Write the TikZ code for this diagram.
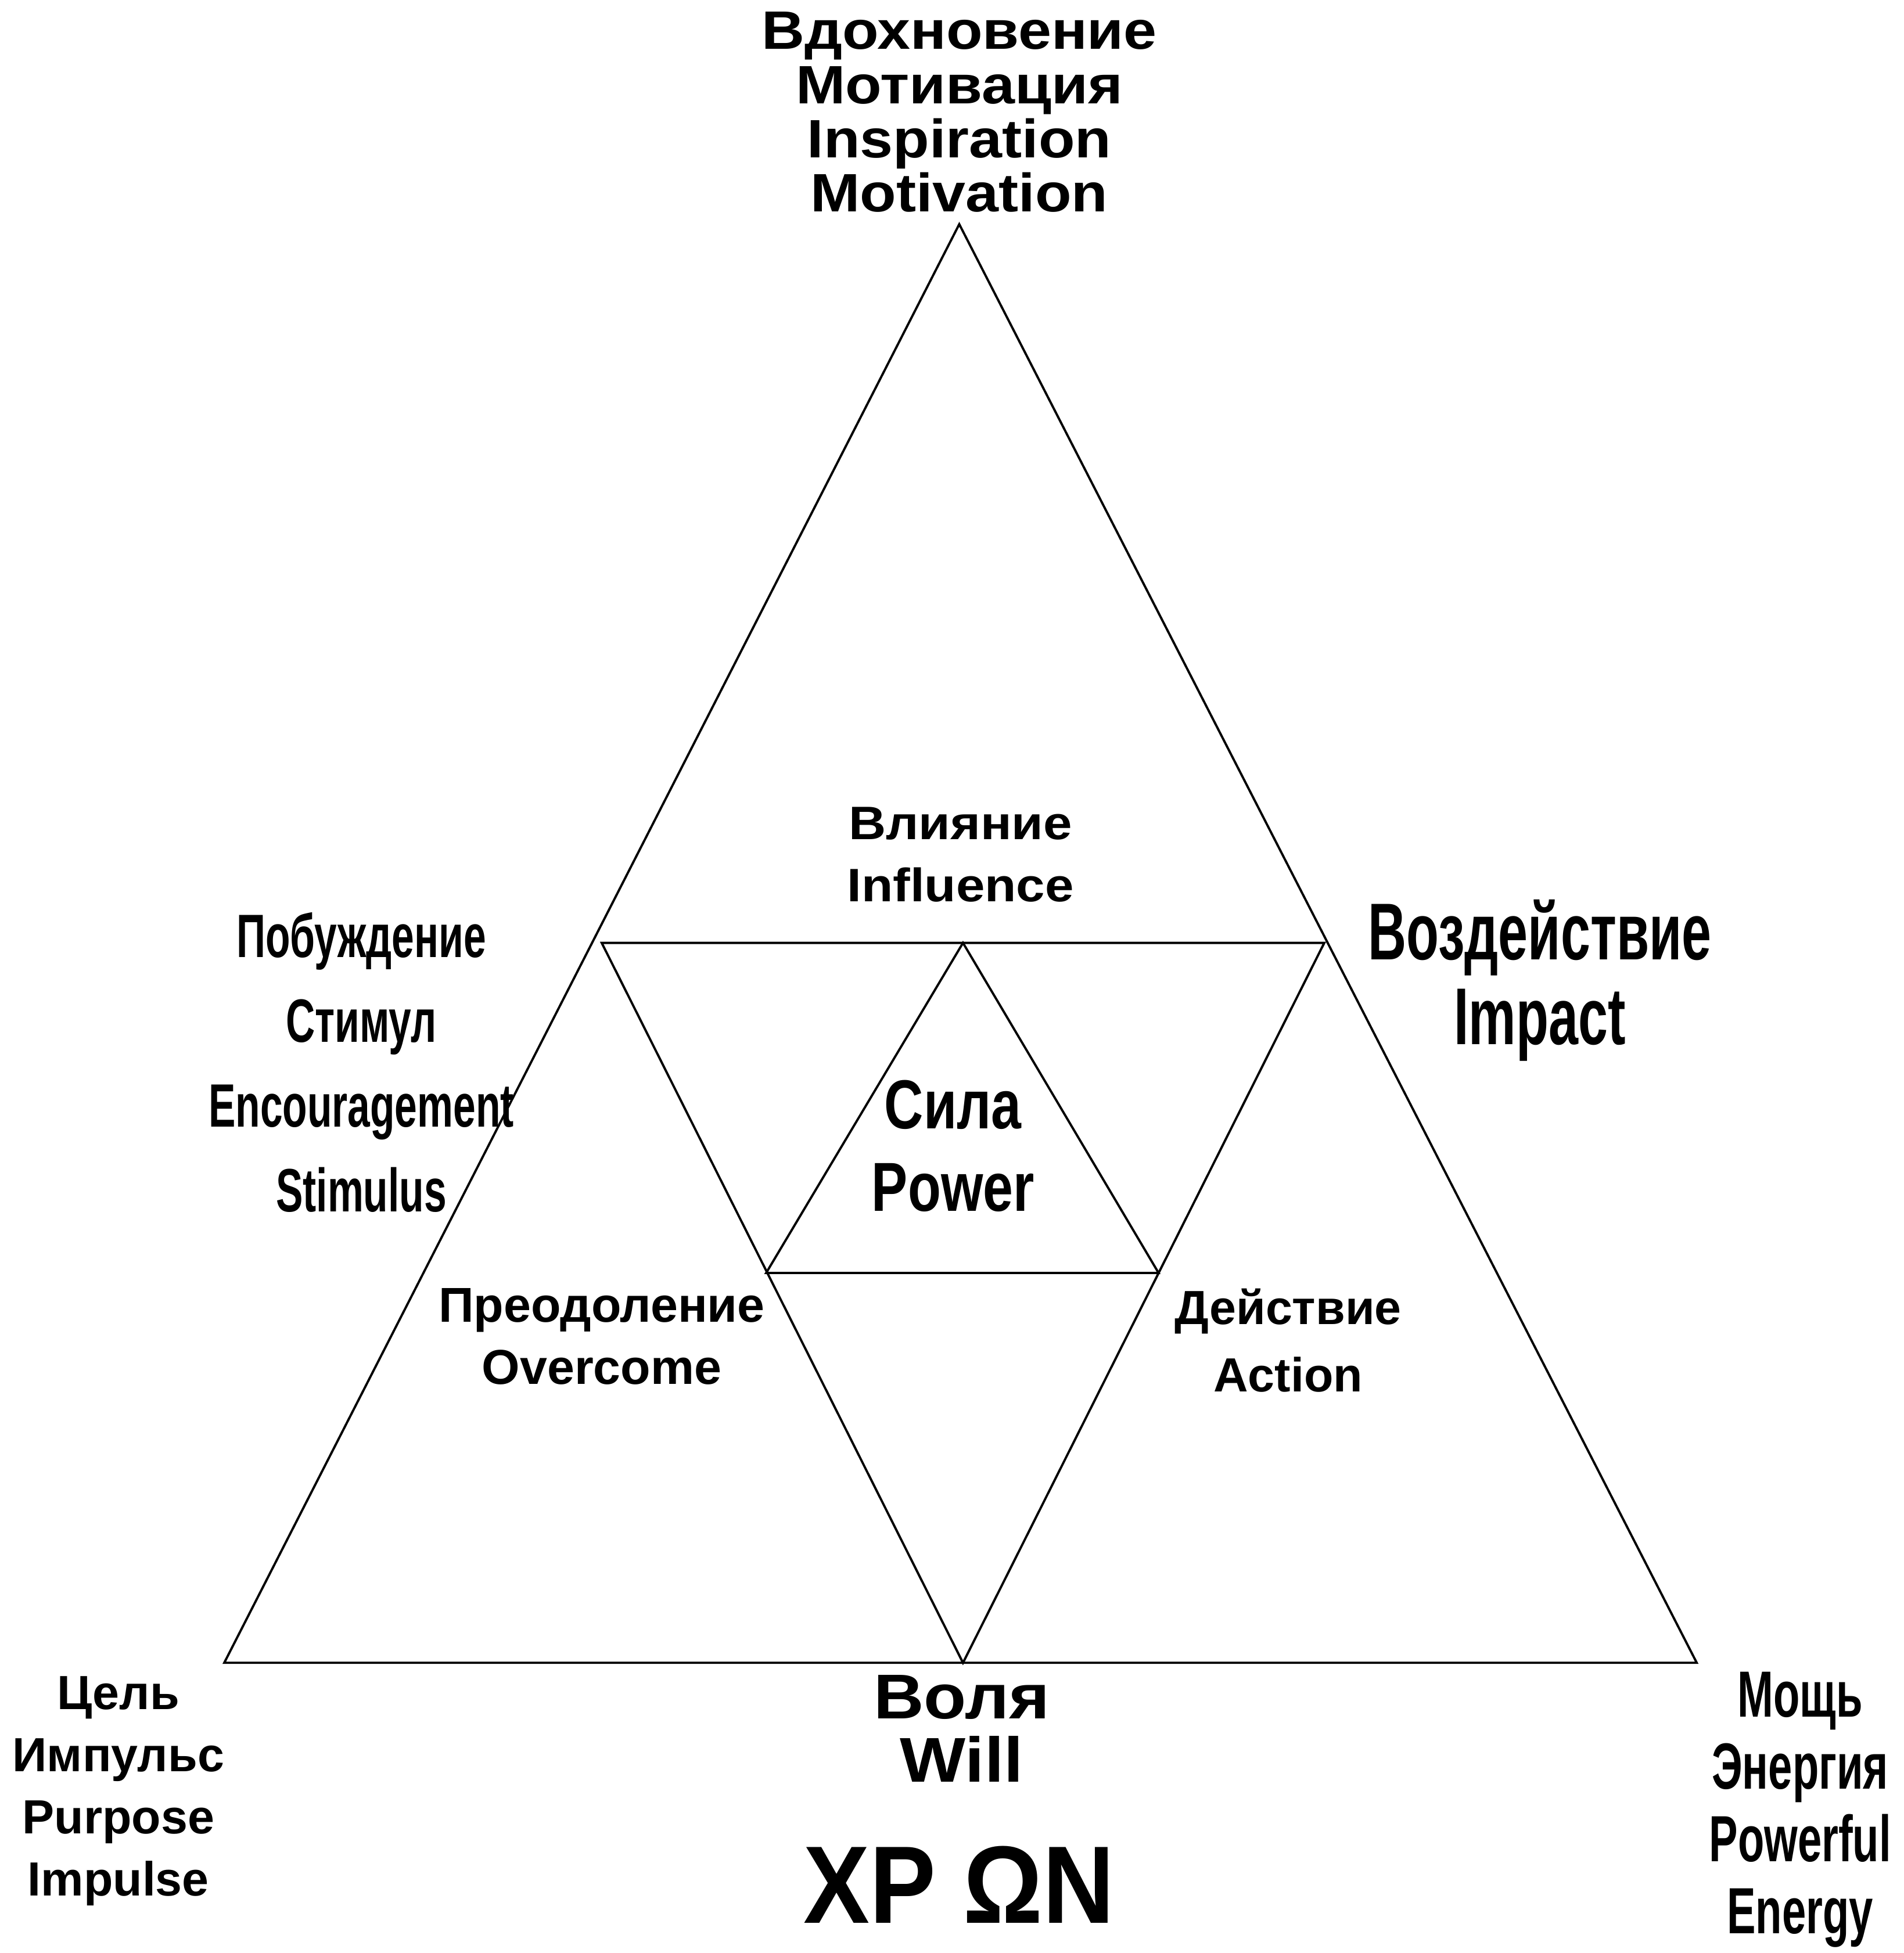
\documentclass[tikz,border=0pt]{standalone}
\usepackage{fontspec}
\setmainfont{Liberation Sans}
\newfontfamily\widefont{Liberation Sans}[FakeStretch=1.1]
\newfontfamily\narrowfont{Liberation Sans}[FakeStretch=0.66]
\newfontfamily\semifont{Liberation Sans}[FakeStretch=0.78]
\newfontfamily\titlefont{Liberation Sans}[FakeStretch=0.9]

\begin{document}
\begin{tikzpicture}[
    x=0.02145cm, y=-0.02145cm,
    edge/.style={draw=black, line width=1.1pt, line join=miter},
    txt/.style={align=center, inner sep=0pt, font=#1},
]
\useasboundingbox (0,0) rectangle (1528,1568);

% ── Vertices ──
\coordinate (apex) at (770,180);
\coordinate (baseL) at (180,1335);
\coordinate (baseR) at (1362,1335);
\coordinate (invL) at (483,757);
\coordinate (invR) at (1063,757);
\coordinate (invB) at (773,1335);
\coordinate (coreT) at (773,757);
\coordinate (coreL) at (615,1022);
\coordinate (coreR) at (930,1022);

% ── Triangles ──
\draw[edge] (apex) -- (baseL) -- (baseR) -- cycle;
\draw[edge] (invL) -- (invR) -- (invB) -- cycle;
\draw[edge] (coreT) -- (coreL) -- (coreR) -- cycle;

% ── Labels ──
\node[txt={\widefont\bfseries\fontsize{26.5}{26.5}\selectfont}] (inspire) at (770,90)
    {Вдохновение\\Мотивация\\Inspiration\\Motivation};
\node[txt={\widefont\bfseries\fontsize{23}{30.4}\selectfont}] (influence) at (771,686)
    {Влияние\\Influence};
\node[txt={\narrowfont\bfseries\fontsize{30}{41.5}\selectfont}] (stimulus) at (290,853)
    {Побуждение\\Стимул\\Encouragement\\Stimulus};
\node[txt={\narrowfont\bfseries\fontsize{39.5}{41.5}\selectfont}] (impact) at (1236,787)
    {Воздействие\\Impact};
\node[txt={\semifont\bfseries\fontsize{34}{40.3}\selectfont}] (power) at (765,920)
    {Сила\\Power};
\node[txt={\bfseries\fontsize{24}{30.5}\selectfont}] (overcome) at (483,1073)
    {Преодоление\\Overcome};
\node[txt={\bfseries\fontsize{23.5}{33}\selectfont}] (action) at (1034,1076)
    {Действие\\Action};
\node[txt={\widefont\bfseries\fontsize{31}{31}\selectfont}] (will) at (772,1388)
    {Воля\\Will};
\node[txt={\bfseries\fontsize{23.5}{30.5}\selectfont}] (purpose) at (95,1438)
    {Цель\\Импульс\\Purpose\\Impulse};
\node[txt={\narrowfont\bfseries\fontsize{32}{35.4}\selectfont}] (energy) at (1445,1453)
    {Мощь\\Энергия\\Powerful\\Energy};
\node[txt={\titlefont\bfseries\fontsize{54}{60}\selectfont}] (xpon) at (770,1513)
    {XP ΩN};

\end{tikzpicture}
\end{document}
